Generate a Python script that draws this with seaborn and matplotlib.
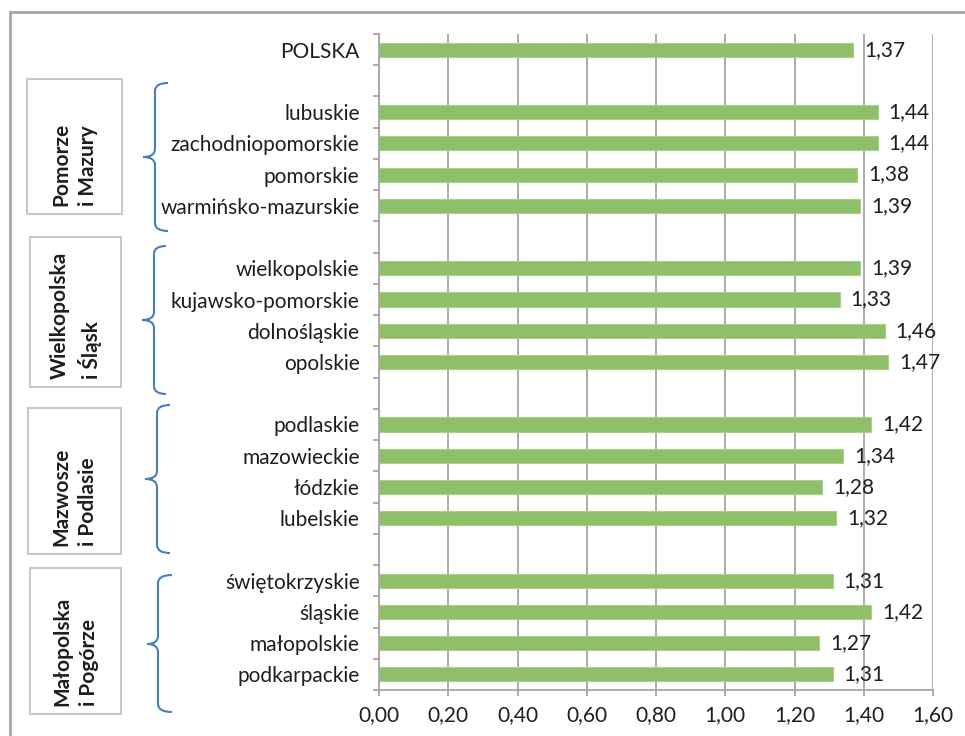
import matplotlib.pyplot as plt
import numpy as np
import pandas as pd
import seaborn as sns
from matplotlib.path import Path
from matplotlib.patches import PathPatch, Rectangle
from matplotlib.ticker import FixedLocator, FuncFormatter

# Data (top to bottom).
regions = [
    "POLSKA",
    "lubuskie", "zachodniopomorskie", "pomorskie", "warmińsko-mazurskie",
    "wielkopolskie", "kujawsko-pomorskie", "dolnośląskie", "opolskie",
    "podlaskie", "mazowieckie", "łódzkie", "lubelskie",
    "świętokrzyskie", "śląskie", "małopolskie", "podkarpackie",
]
values = [
    1.37,
    1.44, 1.44, 1.38, 1.39,
    1.39, 1.33, 1.46, 1.47,
    1.42, 1.34, 1.28, 1.32,
    1.31, 1.42, 1.27, 1.31,
]
# category order with empty spacer rows between the groups
order = [
    "POLSKA", " ",
    "lubuskie", "zachodniopomorskie", "pomorskie", "warmińsko-mazurskie", "  ",
    "wielkopolskie", "kujawsko-pomorskie", "dolnośląskie", "opolskie", "   ",
    "podlaskie", "mazowieckie", "łódzkie", "lubelskie", "    ",
    "świętokrzyskie", "śląskie", "małopolskie", "podkarpackie",
]
group_names = [
    "Pomorze\ni Mazury",
    "Wielkopolska\ni Śląsk",
    "Mazwosze\ni Podlasie",
    "Małopolska\ni Pogórze",
]
x_ticks = [0.0, 0.2, 0.4, 0.6, 0.8, 1.0, 1.2, 1.4, 1.6]

df = pd.DataFrame({"region": regions, "value": values})

sns.set_style("white")
plt.rcParams["font.family"] = ["Lato", "DejaVu Sans"]

W, H = 965, 736
fig = plt.figure(figsize=(W / 100, H / 100), dpi=100)
ax = fig.add_axes([379 / W, 1 - 690 / H, (933 - 379) / W, (690 - 34) / H])

BAR = "#8fbf68"
GRID = "#a6a6a6"
TXT = "#1e1e1e"
FS = 15

sns.barplot(data=df, y="region", x="value", order=order, orient="h",
            color=BAR, width=0.45, saturation=1, edgecolor="#a9cf8a",
            linewidth=0.8, ax=ax)

comma = lambda v: f"{v:.2f}".replace(".", ",")
for cont in ax.containers:
    ax.bar_label(cont, labels=[comma(v) for v in cont.datavalues],
                 padding=8, fontsize=FS, color=TXT)

ax.set_xlim(0, 1.6)
ax.set_xticks(x_ticks)
ax.xaxis.set_major_formatter(FuncFormatter(lambda v, p: comma(v)))
ax.grid(axis="x", color=GRID, linewidth=1.3)
ax.set_axisbelow(True)
ax.set_xlabel("")
ax.set_ylabel("")

for s in ["top", "right"]:
    ax.spines[s].set_visible(False)
for s in ["left", "bottom"]:
    ax.spines[s].set_color(GRID)
    ax.spines[s].set_linewidth(1.3)

ax.tick_params(axis="x", length=4, width=1.3, color=GRID, pad=7,
               labelsize=FS, labelcolor=TXT, bottom=True)
ax.tick_params(axis="y", which="major", length=0, pad=14,
               labelsize=FS, labelcolor=TXT)
ax.yaxis.set_minor_locator(FixedLocator(np.arange(-0.5, len(order), 1)))
ax.tick_params(axis="y", which="minor", length=4.5, width=1.3, color=GRID,
               left=True)


def px(x, y):
    return (x / W, 1 - y / H)


# outer frame (left and top edges)
fig.add_artist(plt.Line2D([px(10, 0)[0], px(10, 0)[0]], [px(0, 12)[1], 0],
                          transform=fig.transFigure, color=GRID, lw=2))
fig.add_artist(plt.Line2D([px(10, 0)[0], 1], [px(0, 12)[1], px(0, 12)[1]],
                          transform=fig.transFigure, color=GRID, lw=2))

# group boxes: (left, top, right, bottom) in pixels
boxes = [(27, 79, 122, 214), (30, 237, 121, 387),
         (28, 408, 121, 554), (30, 568, 121, 714)]
for (x0, y0, x1, y1), name in zip(boxes, group_names):
    fx, fy = px(x0, y1)
    fig.add_artist(Rectangle((fx, fy), (x1 - x0) / W, (y1 - y0) / H,
                             transform=fig.transFigure, fill=False,
                             edgecolor="#c8c8c8", lw=1.5))
    tx, ty = px((x0 + x1) / 2, y1 - 8)
    fig.text(tx, ty, name, rotation=90, ha="center", va="bottom",
             multialignment="left", fontsize=FS, fontweight="bold",
             color=TXT, linespacing=1.4)

# curly braces: (x_end, x_stem, x_tip, y_top, y_mid, y_bot)
braces = [(168, 155, 143, 83, 157, 231), (166, 154, 142, 246, 320, 394),
          (170, 157, 145, 405, 479, 553), (172, 158, 147, 575, 644, 712)]
r = 8
for xe, xs, xt, yt, ym, yb in braces:
    pts = [(xe, yt), (xs, yt), (xs, yt + r), (xs, ym - r), (xs, ym), (xt, ym),
           (xs, ym), (xs, ym + r), (xs, yb - r), (xs, yb), (xe, yb)]
    codes = [Path.MOVETO, Path.CURVE3, Path.CURVE3, Path.LINETO,
             Path.CURVE3, Path.CURVE3, Path.CURVE3, Path.CURVE3,
             Path.LINETO, Path.CURVE3, Path.CURVE3]
    path = Path([px(*p) for p in pts], codes)
    fig.add_artist(PathPatch(path, transform=fig.transFigure, fill=False,
                             edgecolor="#4a7ebb", lw=1.5))

fig.savefig("out.png", dpi=100)
